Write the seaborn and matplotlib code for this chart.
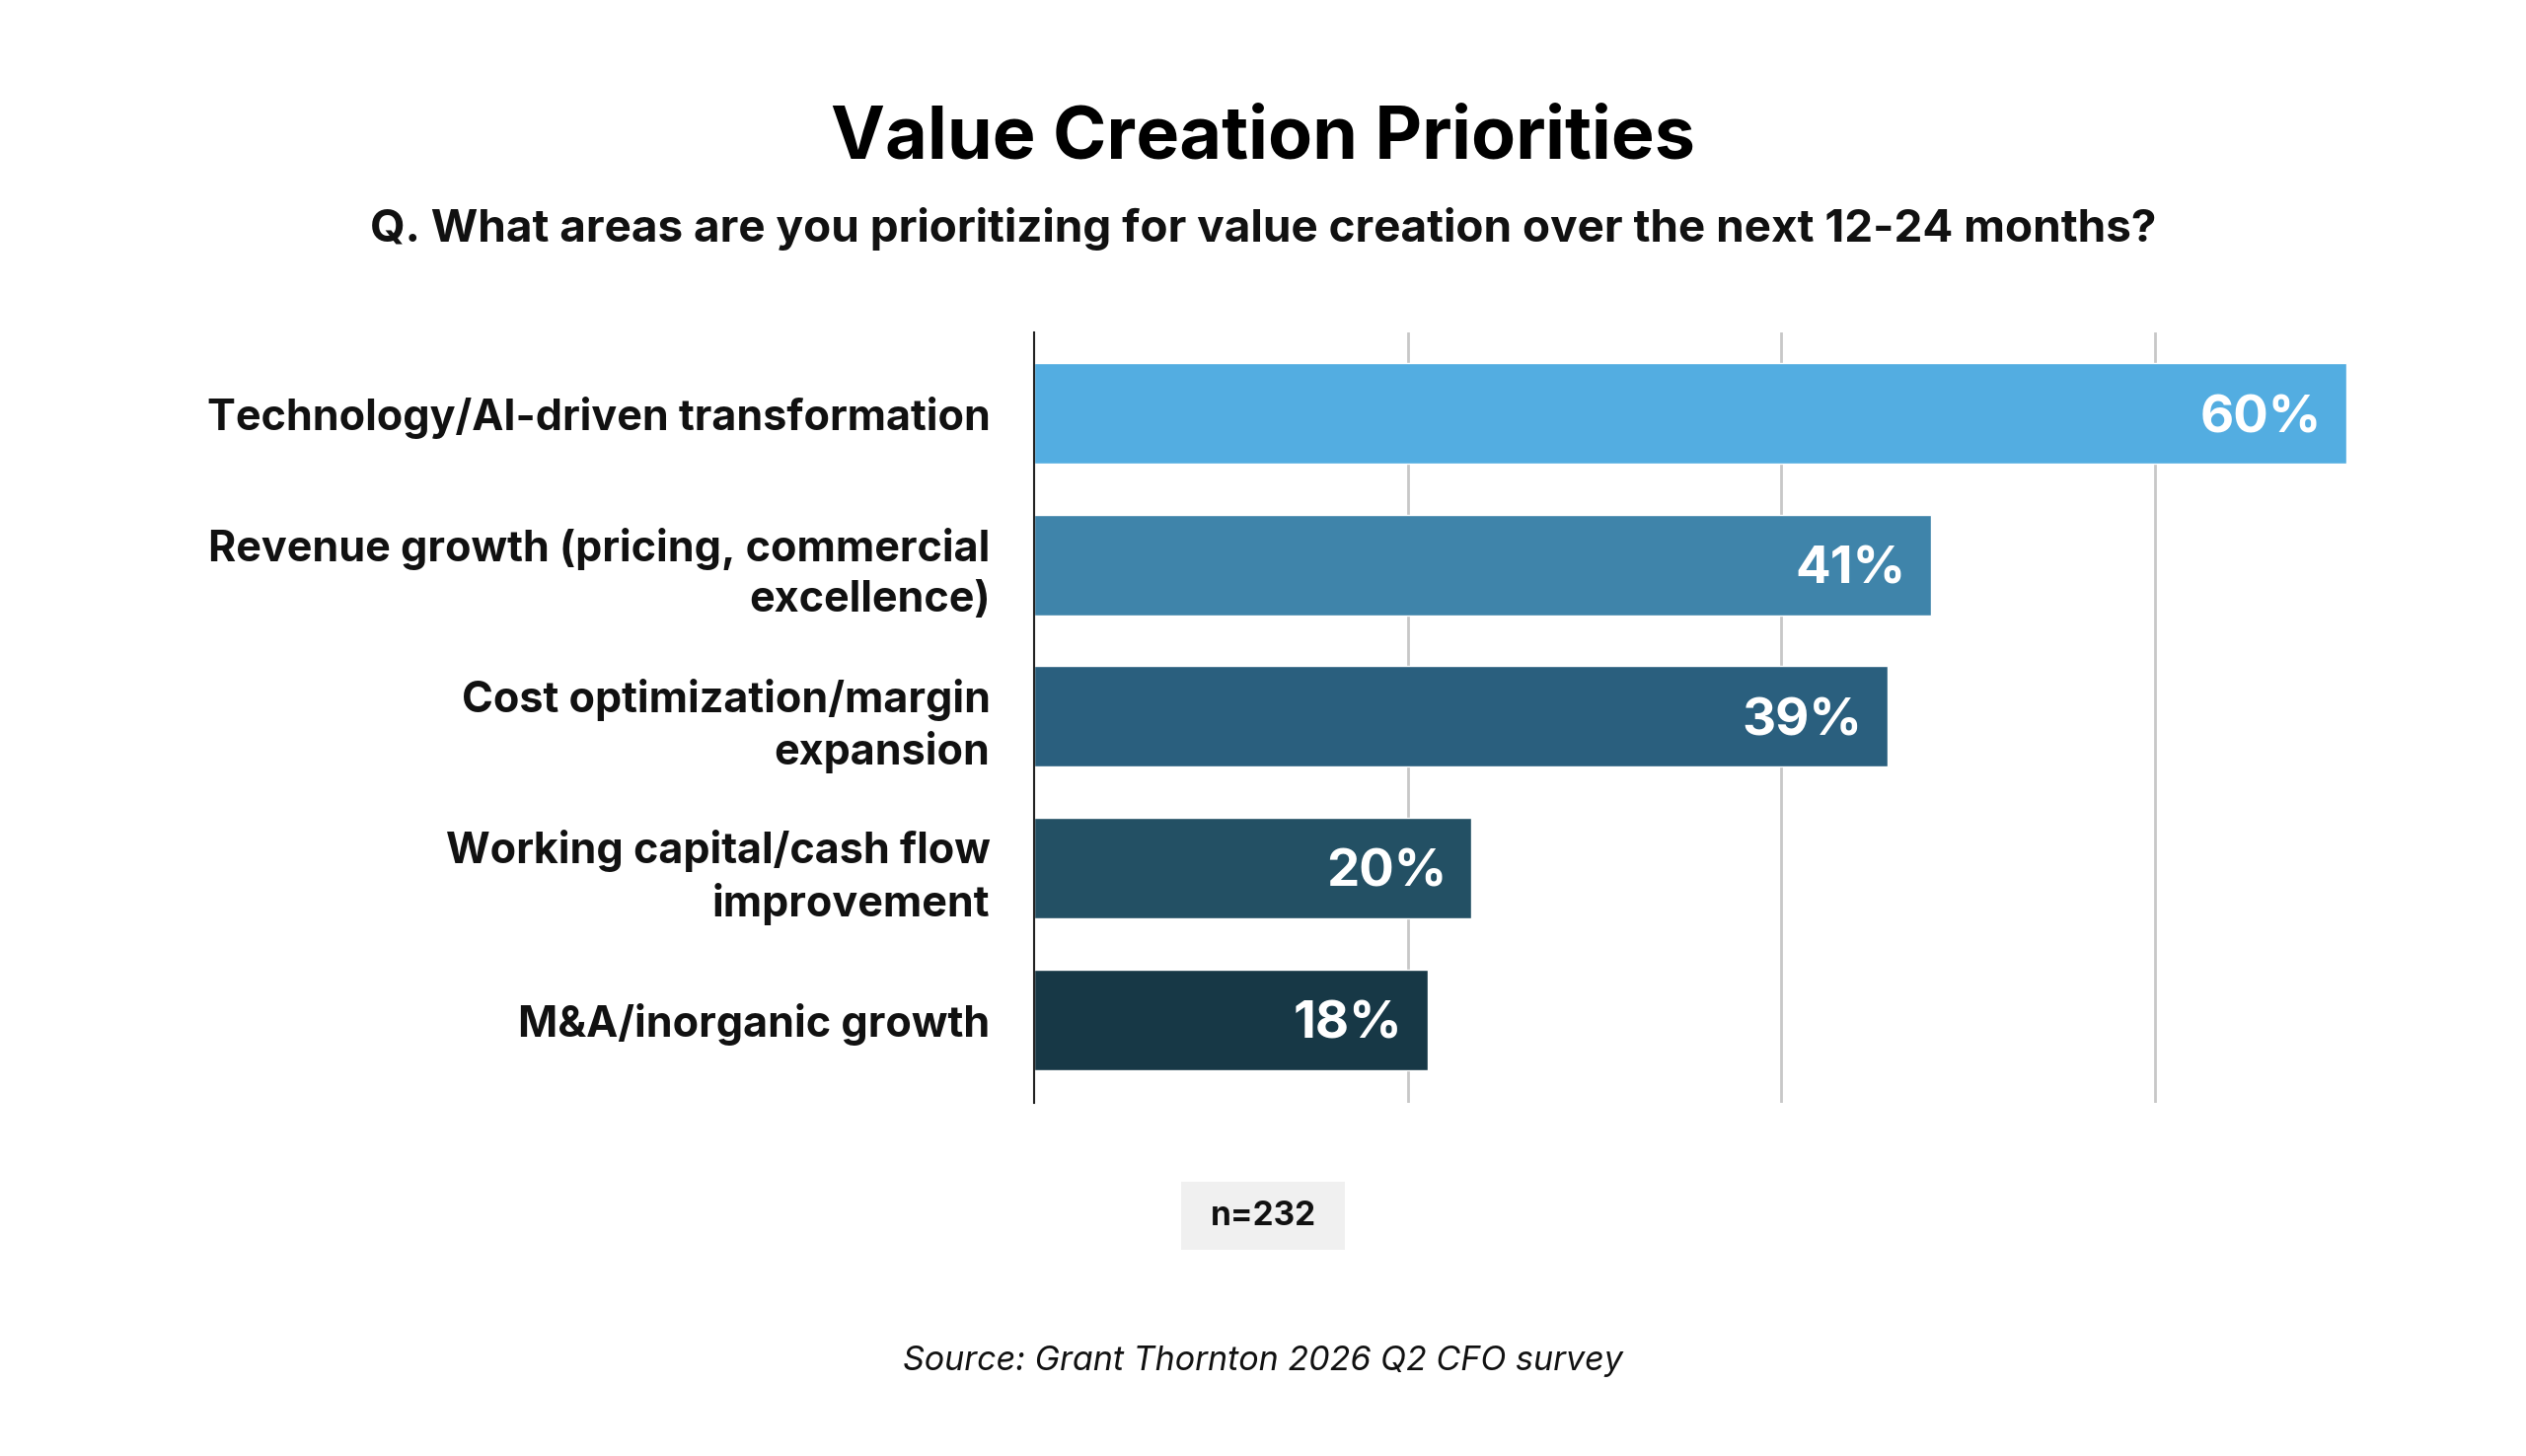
import seaborn as sns
import pandas as pd
import matplotlib.pyplot as plt

categories = [
    "Technology/AI-driven transformation",
    "Revenue growth (pricing, commercial\nexcellence)",
    "Cost optimization/margin\nexpansion",
    "Working capital/cash flow\nimprovement",
    "M&A/inorganic growth",
]
values = [60, 41, 39, 20, 18]
bar_colors = ["#53ade1", "#3f84aa", "#2a5f7e", "#235064", "#173846"]
sample_note = "n=232"
source_note = "Source: Grant Thornton 2026 Q2 CFO survey"

df = pd.DataFrame({"category": categories, "value": values})

sns.set_theme(style="white")
plt.rcParams["font.family"] = ["Inter", "DejaVu Sans"]

W, H = 2560, 1476
fig = plt.figure(figsize=(W / 100, H / 100), dpi=100)
ax = fig.add_axes([0.4094, 0.2425, 0.981 - 0.4094, 0.7717 - 0.2425])

sns.barplot(data=df, x="value", y="category", hue="category",
            palette=bar_colors, width=0.664, legend=False, ax=ax,
            saturation=1, orient="h")

ax.set_xlim(0, 66)
ax.set_ylim(4.55, -0.534)
ax.set_xticks([17.07, 34.15, 51.22])
ax.xaxis.grid(True, color="#c8c8c8", linewidth=2)
ax.set_axisbelow(True)
ax.tick_params(axis="x", bottom=False, labelbottom=False)
ax.tick_params(axis="y", left=False, pad=26)
ax.set_xlabel("")
ax.set_ylabel("")
for side in ["top", "right", "bottom"]:
    ax.spines[side].set_visible(False)
ax.spines["left"].set_color("#222222")
ax.spines["left"].set_linewidth(1.5)

for lab in ax.get_yticklabels():
    lab.set_fontsize(31)
    lab.set_fontweight("bold")
    lab.set_color("#111111")
    lab.set_horizontalalignment("right")
    lab.set_multialignment("right")
    lab.set_linespacing(1.3)

for i, v in enumerate(values):
    ax.text(v - 1.15, i, f"{v}%", ha="right", va="center_baseline",
            color="white", fontsize=38, fontweight="bold")

fig.text(0.5, 1 - 141 / H, "Value Creation Priorities", ha="center",
         va="center", fontsize=53, fontweight="bold", color="#000000")
fig.text(0.5, 1 - 232 / H,
         "Q. What areas are you prioritizing for value creation over the next 12-24 months?",
         ha="center", va="center", fontsize=33, fontweight="bold", color="#111111")

# grey box behind the sample size
fig.patches.append(plt.Rectangle((1197 / W, 1 - 1267 / H), 166 / W, 69 / H,
                                 transform=fig.transFigure, facecolor="#f0f0f0",
                                 edgecolor="none", zorder=0))
fig.text(1280 / W, 1 - 1233 / H, sample_note, ha="center", va="center",
         fontsize=24, fontweight="bold", color="#111111")
fig.text(0.5, 1 - 1380 / H, source_note, ha="center", va="center",
         fontsize=24.5, fontstyle="italic", color="#111111")

fig.savefig("out.png", dpi=100, facecolor="white")
